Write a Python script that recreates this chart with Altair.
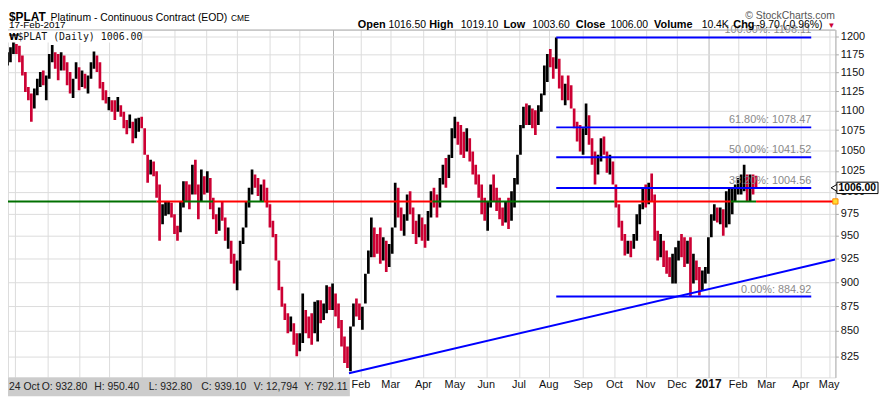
import altair as alt
import pandas as pd

SANS = "Liberation Sans"
MONO = "DejaVu Sans Mono"

# ---------------- data ----------------
FIRST_BAR_DATE = "2015-02-17"          # one bar per two trading days from here
bar_high = [
    1184.3, 1172.9, 1177.5, 1184.3, 1192.1, 1188.9, 1186.6, 1172.9, 1150.5, 1130.6,
    1122.0, 1128.5, 1141.6, 1150.5, 1152.7, 1146.0, 1175.2, 1187.5, 1177.5, 1175.2,
    1177.5, 1172.9, 1163.9, 1150.5, 1141.6, 1163.9, 1157.1, 1152.7, 1148.2, 1146.0,
    1163.9, 1178.4, 1172.9, 1163.9, 1137.2, 1126.3, 1117.6, 1113.3, 1113.3, 1117.6,
    1106.8, 1098.3, 1087.7, 1094.9, 1085.6, 1089.8, 1090.6, 1091.9, 1077.3, 1044.5,
    1038.4, 1036.4, 1024.5, 1008.8, 985.7, 989.5, 989.5, 987.6, 974.3, 961.3,
    989.5, 1012.7, 1012.7, 1008.8, 1032.4,
    1038.4, 1008.8, 1026.5, 1018.6, 1024.5, 1016.6, 993.3, 974.3, 981.9, 988.7,
    970.6, 959.4, 944.7, 930.2, 923.1, 944.7, 959.4, 989.5, 1004.9, 1026.5,
    1020.6, 1016.6, 1008.8, 1014.7, 1004.9, 985.7, 966.9, 952.1, 923.1, 895.0,
    877.8, 867.7, 864.4, 857.7, 847.8, 847.8, 888.1, 871.1, 864.4, 867.7,
    879.5, 881.2, 881.2, 877.8, 896.7, 895.0, 898.4, 888.1, 877.8, 861.1,
    844.6, 834.8, 854.4, 877.8, 882.9, 877.8, 874.4, 908.9, 933.9, 970.6,
    959.4, 952.1, 959.4,
    948.4, 944.7, 941.1, 959.4, 1010.8, 1004.9, 981.9, 974.3, 997.1, 1001.0,
    981.9, 966.9, 974.3, 970.6, 963.1, 978.1, 1001.0, 1004.9, 997.1, 1016.6,
    1032.4, 1040.5, 1044.5, 1077.3, 1091.9, 1085.6, 1081.4, 1073.1, 1077.3, 1064.9,
    1048.5, 1032.4, 1020.6, 1008.8, 993.3, 989.5, 1008.8, 1020.6, 1004.9, 993.3,
    981.9, 989.5, 993.3, 1001.0, 1016.6, 1044.5, 1081.4, 1104.7, 1109.0, 1106.8,
    1102.5, 1100.4, 1106.8, 1122.0, 1159.4, 1175.2, 1182.0, 1170.6, 1198.1, 1168.4,
    1146.0, 1135.0, 1146.0,
    1132.8, 1102.5, 1085.6, 1081.4, 1077.3, 1109.0, 1094.0, 1064.9, 1048.5, 1044.5,
    1064.9, 1066.9, 1048.5, 1044.5, 1036.4, 1008.8, 985.7, 966.9, 952.1, 944.7,
    944.7, 952.1, 974.3, 985.7, 1004.9, 1008.8, 1010.8, 1021.8, 997.1, 955.7,
    952.1, 944.7, 933.9, 926.6, 930.2, 937.5, 944.7, 952.1, 948.4, 944.7,
    948.4, 930.2, 923.1, 916.0, 912.4, 916.0, 948.4, 974.3, 985.7, 981.9,
    981.9, 980.0, 1001.0, 1004.9, 1004.9, 1008.8, 1016.6, 1020.6, 1032.4, 1020.6,
    1020.6, 1020.6, 1019.1,
]
bar_low = [
    1163.9, 1155.8, 1159.4, 1163.9, 1175.2, 1175.2, 1163.9, 1146.0, 1124.1, 1113.3,
    1085.6, 1102.5, 1119.8, 1130.6, 1132.8, 1113.3, 1141.6, 1163.9, 1154.9, 1139.4,
    1152.7, 1152.7, 1132.8, 1122.0, 1116.3, 1141.6, 1126.3, 1130.6, 1128.5, 1122.0,
    1141.6, 1154.9, 1150.5, 1128.5, 1113.3, 1109.0, 1100.4, 1098.3, 1087.7, 1098.3,
    1091.9, 1077.3, 1069.8, 1077.3, 1058.7, 1064.9, 1073.1, 1077.3, 1044.5, 1010.8,
    1020.6, 1018.6, 993.3, 944.7, 963.1, 972.5, 974.3, 970.6, 952.1, 944.7,
    953.9, 981.9, 989.5, 980.0, 997.1,
    997.1, 968.7, 989.5, 997.1, 999.1, 980.0, 968.7, 952.1, 955.7, 966.9,
    944.7, 935.7, 919.5, 898.4, 891.5, 912.4, 941.1, 959.4, 981.9, 997.1,
    1004.9, 995.2, 989.5, 989.5, 981.9, 959.4, 948.4, 923.1, 891.5, 874.4,
    861.1, 847.8, 849.5, 836.4, 825.2, 830.0, 838.1, 847.8, 842.9, 836.4,
    847.8, 839.7, 857.7, 861.1, 867.7, 871.1, 871.1, 864.4, 852.8, 834.8,
    818.8, 814.1, 810.9, 854.4, 864.4, 861.1, 851.1, 877.8, 908.9, 926.6,
    926.6, 930.2, 919.5,
    923.1, 910.7, 916.0, 930.2, 959.4, 970.6, 955.7, 950.2, 966.9, 974.3,
    952.1, 941.1, 948.4, 944.7, 936.8, 944.7, 970.6, 981.9, 970.6, 981.9,
    1008.8, 1004.9, 1016.6, 1040.5, 1064.9, 1056.7, 1044.5, 1040.5, 1048.5, 1036.4,
    1020.6, 1008.8, 993.3, 974.3, 966.9, 955.7, 981.9, 989.5, 978.1, 968.7,
    961.3, 965.0, 957.6, 966.9, 981.9, 1008.8, 1044.5, 1077.3, 1081.4, 1081.4,
    1077.3, 1069.0, 1081.4, 1098.3, 1119.8, 1137.2, 1157.1, 1141.6, 1154.9, 1128.5,
    1113.3, 1106.8, 1113.3,
    1102.5, 1077.3, 1060.7, 1048.5, 1044.5, 1069.0, 1056.7, 1032.4, 1008.8, 1020.6,
    1036.4, 1044.5, 1022.6, 1020.6, 1008.8, 981.9, 959.4, 944.7, 928.4, 930.2,
    926.6, 935.7, 944.7, 963.1, 980.0, 981.9, 985.7, 989.5, 944.7, 923.1,
    926.6, 916.0, 908.9, 905.4, 898.4, 898.4, 923.1, 926.6, 916.0, 919.5,
    884.9, 898.4, 901.9, 886.0, 891.5, 898.4, 908.9, 948.4, 966.9, 965.0,
    963.1, 950.2, 959.4, 963.1, 974.3, 989.5, 997.1, 997.1, 1001.0, 989.5,
    989.5, 997.1, 1003.6,
]
bar_close = [
    1166.1, 1168.4, 1172.9, 1182.0, 1188.9, 1177.5, 1168.4, 1150.5, 1126.3, 1119.8,
    1098.3, 1124.1, 1137.2, 1146.0, 1141.6, 1143.8, 1172.9, 1177.5, 1163.9, 1146.0,
    1172.9, 1159.4, 1137.2, 1128.5, 1132.8, 1154.9, 1132.8, 1146.0, 1137.2, 1141.6,
    1159.4, 1175.2, 1154.9, 1132.8, 1119.8, 1111.1, 1111.1, 1102.5, 1094.0, 1113.3,
    1094.0, 1081.4, 1077.3, 1089.8, 1064.9, 1081.4, 1085.6, 1081.4, 1048.5, 1028.5,
    1032.4, 1024.5, 997.1, 974.3, 980.0, 981.9, 985.7, 974.3, 955.7, 952.1,
    985.7, 1004.9, 1001.0, 997.1, 1028.5,
    1008.8, 985.7, 1008.8, 1004.9, 1008.8, 985.7, 974.3, 959.4, 974.3, 970.6,
    948.4, 955.7, 923.1, 908.9, 916.0, 941.1, 955.7, 985.7, 997.1, 1016.6,
    1008.8, 1001.0, 1004.9, 997.1, 985.7, 963.1, 952.1, 926.6, 895.0, 881.2,
    867.7, 854.4, 861.1, 841.3, 831.6, 844.6, 877.8, 854.4, 847.8, 841.3,
    871.1, 874.4, 864.4, 874.4, 888.1, 881.2, 891.5, 871.1, 857.7, 838.1,
    825.2, 818.8, 847.8, 874.4, 871.1, 864.4, 871.1, 905.4, 930.2, 959.4,
    937.5, 933.9, 926.6,
    937.5, 916.0, 937.5, 955.7, 997.1, 974.3, 959.4, 966.9, 989.5, 981.9,
    955.7, 944.7, 970.6, 948.4, 941.1, 974.3, 997.1, 987.6, 981.9, 1012.7,
    1024.5, 1012.7, 1036.4, 1073.1, 1081.4, 1060.7, 1052.6, 1044.5, 1069.0, 1040.5,
    1024.5, 1012.7, 1001.0, 978.1, 970.6, 985.7, 1004.9, 997.1, 981.9, 974.3,
    966.9, 981.9, 966.9, 989.5, 1012.7, 1040.5, 1077.3, 1098.3, 1089.8, 1098.3,
    1085.6, 1077.3, 1102.5, 1119.8, 1154.9, 1168.4, 1163.9, 1146.0, 1182.0, 1132.8,
    1119.8, 1124.1, 1119.8,
    1115.4, 1081.4, 1077.3, 1052.6, 1073.1, 1098.3, 1060.7, 1036.4, 1028.5, 1036.4,
    1060.7, 1048.5, 1028.5, 1036.4, 1012.7, 985.7, 963.1, 948.4, 937.5, 941.1,
    930.2, 948.4, 970.6, 981.9, 1001.0, 997.1, 1004.9, 997.1, 952.1, 930.2,
    944.7, 923.1, 916.0, 908.9, 923.1, 930.2, 941.1, 933.9, 923.1, 937.5,
    901.9, 923.1, 908.9, 898.4, 905.4, 912.4, 944.7, 970.6, 981.9, 970.6,
    974.3, 955.7, 993.3, 997.1, 1001.0, 1004.9, 1008.8, 1012.7, 1024.5, 997.1,
    1012.7, 1008.8, 1006.0,
]

market_holidays = [
    "2015-04-03", "2015-05-25", "2015-07-03", "2015-09-07", "2015-11-26", "2015-12-25",
    "2016-01-01", "2016-01-18", "2016-02-15", "2016-03-25", "2016-05-30", "2016-07-04",
    "2016-09-05", "2016-11-24", "2016-12-26", "2017-01-02", "2017-01-16", "2017-02-20",
    "2017-04-14",
]

level_price = 989.0
level_breaks = ["2015-02-17", "2015-07-16", "2015-08-11", "2015-09-09", "2015-10-12",
                "2015-10-27", "2016-04-11", "2016-10-03", "2017-01-25", "2017-02-17"]
level_state = ["above", "below", "above", "below", "above",
               "below", "above", "below", "above", "below"]

fib_pcts = ["100.00%", "61.80%", "50.00%", "38.20%", "0.00%"]
fib_prices = [1198.11, 1078.47, 1041.52, 1004.56, 884.92]
fib_from, fib_to = "2016-08-08", "2017-04-12"

trend_dates = ["2016-01-20", "2017-05-05"]
trend_prices = [809.0, 924.0]

y_ticks = [825, 850, 875, 900, 925, 950, 975, 1000, 1025, 1050, 1075, 1100, 1125, 1150, 1175, 1200]

quote_fields = ["Open", "High", "Low", "Close", "Volume", "Chg"]
quote_values = ["1016.50", "1019.10", "1003.60", "1006.00", "10.4K", "-9.70 (-0.96%)"]
info_items = ["24 Oct", "O: 932.80", "H: 950.40", "L: 932.80", "C: 939.10", "V: 12,794", "Y: 792.11"]
last_price = "1006.00"

# ---------------- derived tables ----------------
days = pd.bdate_range(FIRST_BAR_DATE, "2017-05-31", freq="C", holidays=market_holidays)
kidx = {d.strftime("%Y-%m-%d"): k for k, d in enumerate(days)}

X_MIN, X_MAX = 4.35, 559.2
n = len(bar_close)
bars_df = pd.DataFrame({
    "k": [2 * j for j in range(n)],
    "date": [days[2 * j].strftime("%Y-%m-%d") for j in range(n)],
    "high": bar_high, "low": bar_low, "close": bar_close,
    "col": ["#cc0033"] + ["#000000" if bar_close[j] >= bar_close[j - 1] else "#cc0033" for j in range(1, n)],
})

seg_start = [kidx[d] for d in level_breaks]
seg_end = seg_start[1:] + [X_MAX]
level_df = pd.DataFrame({"k": seg_start, "k2": seg_end, "price": level_price,
                         "col": ["#007000" if s == "above" else "#ff0000" for s in level_state]})

kser = pd.Series(range(len(days)), index=days)
firsts = kser.groupby([days.year, days.month]).min()
m_k, m_lab, m_bold = [], [], []
for (yy, mm), k in firsts.items():
    if (yy, mm) <= (2015, 2) or (yy, mm) > (2017, 5):
        continue
    m_k.append(int(k))
    m_lab.append(str(yy) if mm == 1 else days[int(k)].strftime("%b"))
    m_bold.append(mm == 1)
month_df = pd.DataFrame({"k": m_k, "label": m_lab, "bold": m_bold})
year_ks = [k for k, b in zip(m_k, m_bold) if b]
# labels left of Feb 2016 are hidden under the info box in the reference
shown_months = month_df[month_df["k"] >= kidx["2016-02-01"]]

fib_df = pd.DataFrame({
    "k": kidx[fib_from], "k2": kidx[fib_to], "price": fib_prices,
    "label": [f"{p}: {v:.2f}" for p, v in zip(fib_pcts, fib_prices)],
})
trend_df = pd.DataFrame({"k": [kidx[trend_dates[0]]], "k2": [kidx[trend_dates[1]]],
                         "price": [trend_prices[0]], "price2": [trend_prices[1]]})

# ---------------- chart ----------------
W, H = 835, 351
xscale = alt.Scale(domain=[X_MIN, X_MAX], nice=False, zero=False)
yscale = alt.Scale(type="log", domain=[805.1, 1209.1], nice=False, zero=False)
xaxis = alt.Axis(values=m_k, grid=True, labels=False, ticks=False, domain=False, title=None,
                 gridColor={"condition": {"test": f"indexof({year_ks}, datum.value) >= 0",
                                          "value": "#b5b5b5"}, "value": "#dcdcdc"},
                 gridWidth=1, zindex=0)
yaxis = alt.Axis(orient="right", values=y_ticks, format="d", grid=True, gridColor="#dcdcdc", title=None,
                 labelFont=SANS, labelFontSize=11, labelColor="#111", labelPadding=2,
                 tickSize=3, tickColor="#aaa", domainColor="#b0b0b0", zindex=0)


def X(f):
    return alt.X(f, type="quantitative", scale=xscale, axis=xaxis)


def Y(f):
    return alt.Y(f, type="quantitative", scale=yscale, axis=yaxis)


def ptext(s, x, y, size=11, weight="normal", color="#000", font=SANS, align="left", baseline="alphabetic"):
    return alt.Chart(pd.DataFrame({"t": [s]})).mark_text(
        align=align, baseline=baseline, fontSize=size, fontWeight=weight, color=color, font=font
    ).encode(x=alt.value(x), y=alt.value(y), text="t:N")


def prect(x, x2, y, y2, fill, stroke=None):
    kw = dict(fill=fill)
    if stroke:
        kw.update(stroke=stroke, strokeWidth=1)
    return alt.Chart(pd.DataFrame({"a": [0]})).mark_rect(**kw).encode(
        x=alt.value(x), x2=alt.value(x2), y=alt.value(y), y2=alt.value(y2))


bars = alt.Chart(bars_df).mark_rule(strokeWidth=2.7, clip=True).encode(
    x=X("k"), y=Y("low"), y2="high:Q", color=alt.Color("col:N", scale=None),
)
level = alt.Chart(level_df).mark_rule(strokeWidth=2, clip=True).encode(
    x=X("k"), x2="k2:Q", y=Y("price"), color=alt.Color("col:N", scale=None),
)
fib = alt.Chart(fib_df).mark_rule(strokeWidth=2, color="#0000ff").encode(x=X("k"), x2="k2:Q", y=Y("price"))
fib_txt = alt.Chart(fib_df).mark_text(align="right", baseline="alphabetic", dy=-4, fontSize=11,
                                      font=SANS, color="#8a8a8a").encode(x=X("k2"), y=Y("price"), text="label:N")
trend = alt.Chart(trend_df).mark_rule(strokeWidth=2, color="#0000ff", clip=True).encode(
    x=X("k"), x2="k2:Q", y=Y("price"), y2="price2:Q")
handle = alt.Chart(pd.DataFrame({"k": [X_MAX], "price": [level_price]})).mark_point(
    shape="square", size=28, filled=True, fill="#ffdd33", stroke="#ff8800", strokeWidth=1, opacity=1
).encode(x=X("k"), y=Y("price"))

top_border = alt.Chart(pd.DataFrame({"a": [0]})).mark_rule(color="#b0b0b0", strokeWidth=1).encode(
    x=alt.value(0), x2=alt.value(W), y=alt.value(0.5))

month_norm = alt.Chart(shown_months[~shown_months["bold"]]).mark_text(
    baseline="alphabetic", fontSize=11, font=SANS, color="#111").encode(x=X("k"), y=alt.value(362), text="label:N")
month_bold = alt.Chart(shown_months[shown_months["bold"]]).mark_text(
    baseline="alphabetic", fontSize=12, font=SANS, fontWeight="bold", color="#111").encode(
    x=X("k"), y=alt.value(362), text="label:N")

layers = [bars, level, fib, trend, fib_txt, handle, top_border, month_norm, month_bold]

# legend box inside plot
layers += [prect(0, 135, 1, 13, "#ffffff"),
           ptext("\u20a9", 1, 10.5, size=9, weight="bold", font="DejaVu Sans"),
           ptext("$PLAT (Daily) " + last_price, 9.5, 10.5, size=10, font=MONO, color="#111")]

# info box at bottom left
layers += [prect(0, 345, 351, 370, "#cccccc")]
info_x = [1, 34, 87, 142, 195, 248, 299]
for s, xx in zip(info_items, info_x):
    layers.append(ptext(s, xx, 363.5, size=10.5, color="#222"))

# header
layers += [ptext("$PLAT", 1, -9, size=12, weight="bold"),
           ptext("Platinum - Continuous Contract (EOD)", 43, -9, size=10.5),
           ptext("CME", 225, -9, size=8.5),
           ptext("17-Feb-2017", 1, -1.5, size=10),
           ptext("\u00a9 StockCharts.com", 744, -11, size=10.5, color="#555")]
field_x = [353, 425, 500, 573, 652, 732]
value_x = [384, 457, 529, 608, 700, 755]
for f, v, fx, vx in zip(quote_fields, quote_values, field_x, value_x):
    layers.append(ptext(f, fx, -1.5, size=11, weight="bold"))
    layers.append(ptext(v, vx, -1.5, size=10.5))
layers.append(ptext("\u25bc", 827, -2, size=8, color="#cc0033"))

# last price marker on the right axis
layers += [alt.Chart(pd.DataFrame({"a": [0]})).mark_point(
               shape="triangle-left", size=60, filled=True, fill="#ffffff", stroke="#000", strokeWidth=1, opacity=1
           ).encode(x=alt.value(834), y=alt.value(159.7)),
           prect(836.5, 878, 154, 165.5, "#ffffff", "#000000"),
           ptext(last_price, 857, 160, size=10.5, weight="bold", align="center", baseline="middle")]

chart = alt.layer(*layers).properties(
    width=W, height=H,
    padding={"left": 0, "top": 20, "right": 44, "bottom": 18},
    autosize=alt.AutoSizeParams(type="none"),
).configure_view(stroke=None).configure(background="#ffffff")

chart.save("out.html", embed_options={"renderer": "svg", "actions": False})
